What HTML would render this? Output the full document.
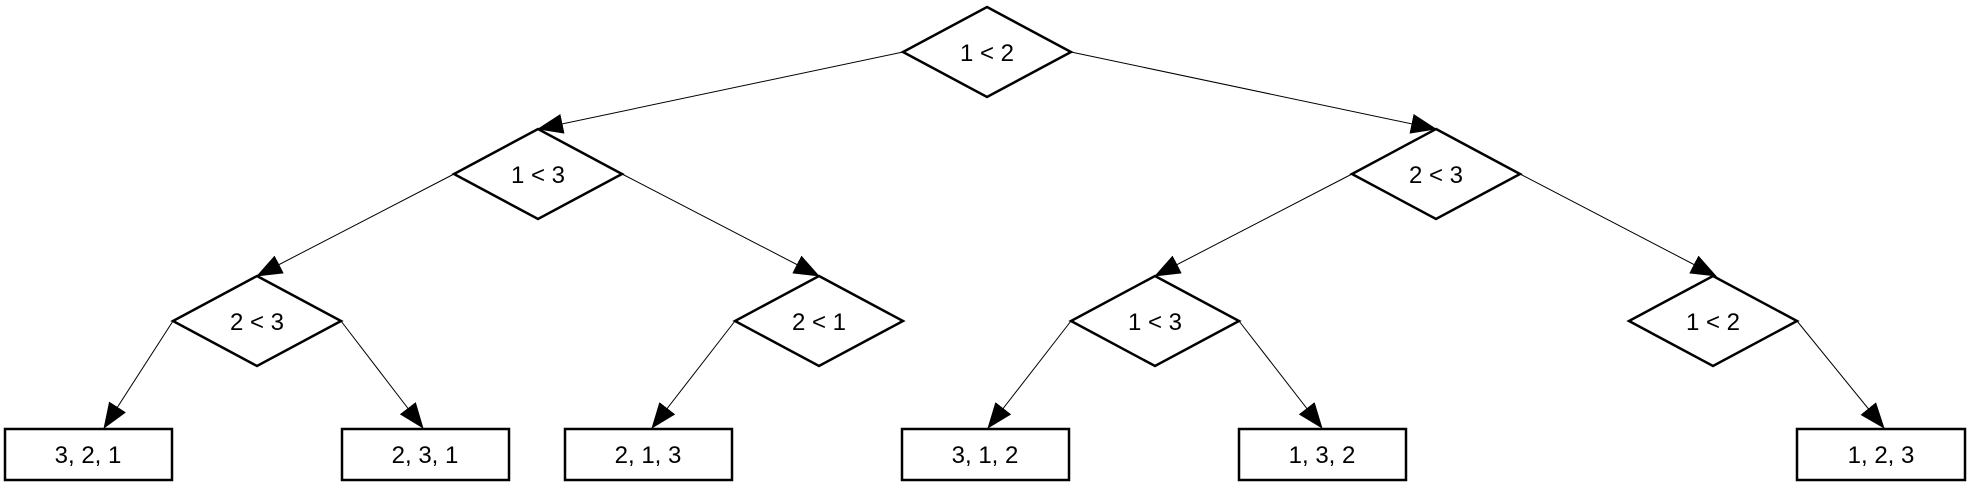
<!DOCTYPE html>
<html><head><meta charset="utf-8"><style>
html,body{margin:0;padding:0;background:#fff;}
svg{display:block;}
text{font-family:"Liberation Sans",sans-serif;font-size:24px;fill:#000;}
</style></head><body>
<svg width="1974" height="490" viewBox="0 0 1974 490" xmlns="http://www.w3.org/2000/svg">
<defs>
<marker id="a" markerUnits="userSpaceOnUse" markerWidth="26" markerHeight="20" refX="25" refY="10" orient="auto">
<path d="M0,0 L26,10 L0,20 Z" fill="#000"/>
</marker>
</defs>
<g stroke="#000" stroke-width="1" fill="none" marker-end="url(#a)">
<line x1="903" y1="52" x2="538" y2="129"/>
<line x1="1071" y1="52" x2="1436" y2="129"/>
<line x1="454" y1="174" x2="257" y2="276"/>
<line x1="622" y1="174" x2="819" y2="276"/>
<line x1="1352" y1="174" x2="1155" y2="276"/>
<line x1="1520" y1="174" x2="1716" y2="276"/>
<line x1="173" y1="321" x2="104" y2="428"/>
<line x1="341" y1="321" x2="423" y2="428"/>
<line x1="735" y1="321" x2="652" y2="428"/>
<line x1="1071" y1="321" x2="988" y2="428"/>
<line x1="1239" y1="321" x2="1322" y2="428"/>
<line x1="1797" y1="321" x2="1884" y2="428"/>
</g>
<g stroke="#000" stroke-width="2.5" fill="#fff">
<polygon points="987,7 1071,52 987,97 903,52"/>
<polygon points="538,129 622,174 538,219 454,174"/>
<polygon points="1436,129 1520,174 1436,219 1352,174"/>
<polygon points="257,276 341,321 257,366 173,321"/>
<polygon points="819,276 903,321 819,366 735,321"/>
<polygon points="1155,276 1239,321 1155,366 1071,321"/>
<polygon points="1713,276 1797,321 1713,366 1629,321"/>
<rect x="5" y="429" width="167" height="51"/>
<rect x="342" y="429" width="167" height="51"/>
<rect x="565" y="429" width="167" height="51"/>
<rect x="902" y="429" width="167" height="51"/>
<rect x="1239" y="429" width="167" height="51"/>
<rect x="1797" y="429" width="168" height="51"/>
</g>
<g text-anchor="middle">
<text x="987" y="61">1 &lt; 2</text>
<text x="538" y="183">1 &lt; 3</text>
<text x="1436" y="183">2 &lt; 3</text>
<text x="257" y="330">2 &lt; 3</text>
<text x="819" y="330">2 &lt; 1</text>
<text x="1155" y="330">1 &lt; 3</text>
<text x="1713" y="330">1 &lt; 2</text>
<text x="88" y="463">3, 2, 1</text>
<text x="425" y="463">2, 3, 1</text>
<text x="648" y="463">2, 1, 3</text>
<text x="985" y="463">3, 1, 2</text>
<text x="1322" y="463">1, 3, 2</text>
<text x="1881" y="463">1, 2, 3</text>
</g>
</svg>
</body></html>
